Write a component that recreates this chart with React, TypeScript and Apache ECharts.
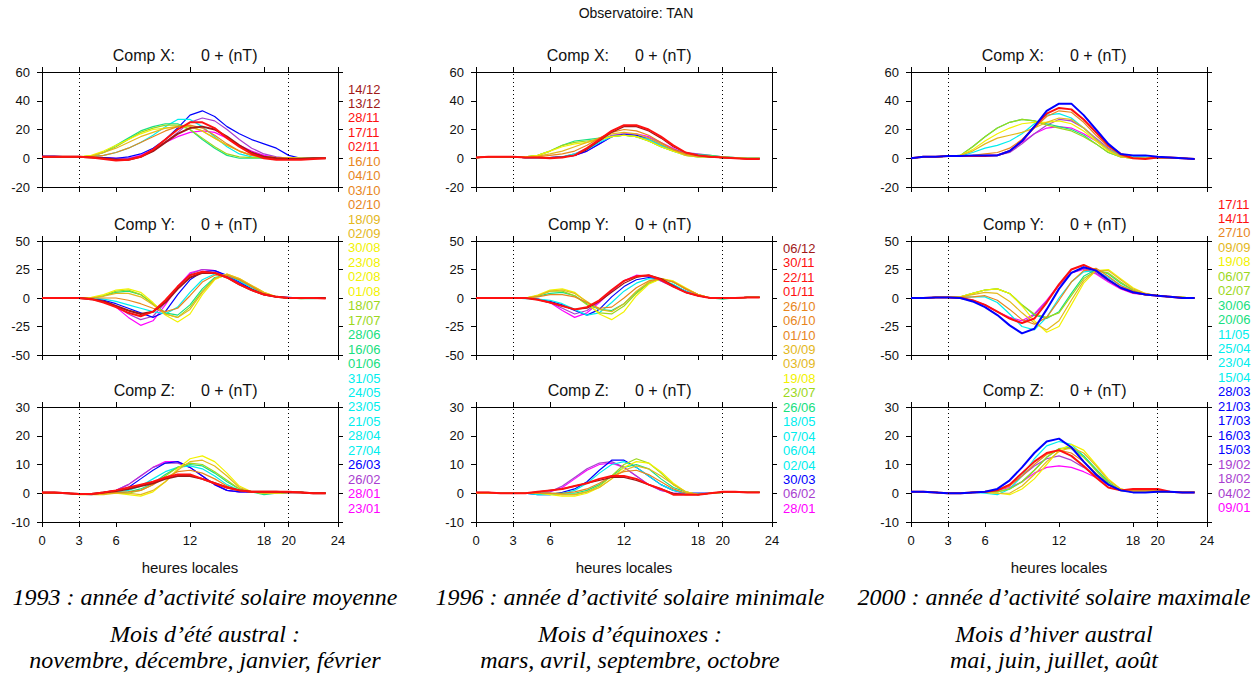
import React, { useEffect, useRef } from 'react';
import * as echarts from 'echarts';

// ---------- DATA ----------
const HOURS = [0, 1, 2, 3, 4, 5, 6, 7, 8, 9, 10, 11, 12, 13, 14, 15, 16, 17, 18, 19, 20, 21, 22, 23];
const X_TICKS = [0, 3, 6, 12, 18, 20, 24];
const NIGHT_LIMITS = [3, 20];
const COMPONENTS = ['X', 'Y', 'Z'];
const Y_MIN = [-20, -50, -10];
const Y_MAX = [60, 50, 30];
const Y_INTERVAL = [20, 25, 10];

// curve groups (by month colour), drawing order
const GROUPS_1993 = ['jan', 'feb', 'mar', 'cyan', 'jun', 'jul', 'aug', 'sep', 'oct', 'dec', 'nov'];
const GROUPS_1996 = ['jan', 'feb', 'mar', 'cyan', 'jun', 'jul', 'aug', 'sep', 'oct', 'dec', 'nov'];
const GROUPS_2000 = ['jan', 'feb', 'cyan', 'jun', 'jul', 'aug', 'sep', 'oct', 'nov', 'mar'];

const X_1993 = [
  [1, 1, 1, 1, 1, 0.5, 0, 0, 2, 6, 11, 15, 18, 19, 18, 14, 9, 5, 2, 0.5, 0, 0, 0.5, 0.5],
  [1, 1, 1, 1, 1, 0.5, 0, 0, 1, 5, 11, 18, 25, 28, 26, 20, 13, 7, 3, 1, 0, 0, 0.5, 0.5],
  [1.5, 1.5, 1, 1, 1, 0.5, 0, 1, 3, 7, 13, 21, 30, 33, 29, 22, 17, 13, 10, 7, 2, 0, 0.5, 0.5],
  [1, 1, 1, 1, 1.5, 2, 4, 7, 11, 16, 22, 27, 27, 22, 15, 8, 3, 1, 0.5, 0.5, 0.5, 0, 0, 0],
  [1, 1, 1, 1, 1.5, 4, 9, 14, 19, 22, 24, 24, 20, 13, 7, 2, 0, 0, 0, 0, 0, 0, 0, 0],
  [1, 1, 1, 1, 1.5, 4, 8, 13, 18, 21, 23, 23, 20, 14, 8, 3, 1, 0.5, 0.5, 0.5, 0, 0, 0, 0],
  [1, 1, 1, 1, 2, 5, 9, 13, 17, 20, 21, 22, 22, 19, 14, 9, 5, 2, 1, 0.5, 0.5, 0, 0, 0],
  [1, 1, 1, 1, 1.5, 4, 7, 11, 15, 18, 21, 22, 22, 19, 14, 9, 5, 2, 1, 0.5, 0.5, 0, 0, 0],
  [1, 1, 1, 1, 1, 2, 4, 7, 11, 15, 19, 22, 23, 21, 16, 10, 5, 2, 1, 0.5, 0, 0, 0, 0],
  [1, 1, 1, 1, 0.5, 0, -1, -1, 1, 5, 11, 17, 21, 22, 20, 15, 9, 4, 1, 0, -0.5, -0.5, 0, 0],
  [1, 1, 1, 1, 0.5, -0.5, -1.5, -1, 1, 6, 13, 20, 25, 25, 21, 14, 8, 3, 0, -1, -1, -1, -0.5, 0],
];
const Y_1993 = [
  [0, 0, 0, 0, 0, -2, -8, -17, -24, -20, -6, 10, 22, 25, 24, 19, 13, 7, 3, 1, 0, 0, 0, 0],
  [0, 0, 0, 0, 0, -2, -7, -14, -19, -16, -4, 10, 21, 25, 24, 19, 13, 7, 3, 1, 0, 0, 0, 0],
  [0, 0, 0, 0, 0, -2, -5, -9, -13, -17, -12, 3, 16, 23, 24, 20, 14, 8, 4, 1, 0.5, 0, 0, 0],
  [0, 0, 0, 0, 0, -1, -3, -6, -9, -12, -14, -8, 5, 16, 21, 20, 15, 9, 4, 1, 0, 0, 0, 0],
  [0, 0, 0, 0, 0, 2, 5, 6, 3, -5, -13, -15, -6, 8, 18, 20, 16, 10, 4, 1, 0, -0.5, -0.5, 0],
  [0, 0, 0, 0, 0, 2, 6, 7, 3, -5, -14, -17, -8, 6, 17, 20, 16, 10, 4, 1, 0, -0.5, 0, 0],
  [0, 0, 0, 0, 0.5, 3, 7, 8, 5, -4, -15, -21, -14, 3, 16, 21, 17, 11, 5, 1, 0, 0, 0, 0],
  [0, 0, 0, 0, 0, 1.5, 4, 4, 1, -6, -14, -17, -10, 5, 17, 21, 17, 11, 5, 1, 0, 0, 0, 0],
  [0, 0, 0, 0, 0, 0, 0, -2, -5, -9, -12, -9, 2, 14, 20, 20, 16, 10, 4, 1, 0, 0, 0, 0],
  [0, 0, 0, 0, -1, -3, -7, -11, -14, -12, -4, 8, 18, 22, 22, 18, 12, 7, 3, 1, 0, 0, 0, 0],
  [0, 0, 0, 0, -1, -4, -8, -13, -16, -12, -2, 10, 20, 23, 22, 18, 12, 7, 3, 1, 0, 0, 0, -0.5],
];
const Z_1993 = [
  [0, 0, 0, -0.3, -0.3, 0.3, 1, 3, 6, 9, 11, 11, 9, 6, 3, 1, 0.5, 0.5, 0.5, 0.5, 0.5, 0.3, 0, 0],
  [0, 0, 0, -0.3, -0.3, 0.3, 1, 3, 6, 9, 10.5, 10.5, 9, 6, 3, 1, 0.5, 0.5, 0.5, 0.5, 0.5, 0.3, 0, 0],
  [0, 0, 0, -0.3, -0.5, 0, 0.5, 2, 5, 8, 10.5, 11, 9, 6, 3, 1, 0.5, 0.5, 0.5, 0.5, 0.3, 0.3, 0, 0],
  [0, 0, 0, -0.3, -0.3, 0, 0.5, 1, 2.5, 5, 7.5, 9, 9.5, 8.5, 6, 3, 1, 0.5, 0, 0, 0.3, 0.3, 0, 0],
  [0, 0, 0, -0.3, -0.3, 0, 0, 0.5, 1.5, 3.5, 6.5, 9, 10, 9.5, 7, 4, 1.5, 0.5, -0.5, 0, 0.3, 0.3, 0, 0],
  [0, 0, 0, -0.3, -0.3, 0, 0, 0, 1, 3, 6, 9, 10.5, 10, 7.5, 4.5, 1.5, 0.5, 0, 0, 0.3, 0.3, 0, 0],
  [0, 0, 0, -0.3, -0.3, 0, 0, -0.5, -1, 0.5, 4, 8.5, 12, 13, 11, 7, 2.5, 0.5, 0, 0, 0.3, 0.3, 0, 0],
  [0, 0, 0, -0.5, -0.5, -0.5, 0, 0, -0.5, 1, 4, 8, 11, 11.5, 9.5, 6, 2, 0.5, 0, 0, 0.3, 0.3, 0, 0],
  [0, 0, 0, -0.3, -0.3, 0, 0.3, 0.5, 1, 3, 5.5, 7.5, 8, 7, 5, 2.5, 1, 0.5, 0.3, 0.3, 0.3, 0.3, 0, 0],
  [0.3, 0.3, 0, -0.3, -0.3, 0.3, 0.8, 1.5, 2.5, 3.5, 5, 6, 6, 5, 3.5, 2, 1, 0.5, 0.5, 0.5, 0.3, 0.3, 0, 0],
  [0.3, 0.3, 0, -0.3, -0.3, 0.3, 1, 2, 3, 4, 5.5, 6.5, 6.5, 5, 3.5, 2, 1, 0.5, 0.5, 0.5, 0.5, 0.3, 0, 0],
];

const X_1996 = [
  [0.5, 1, 1, 1, 0.5, 0.5, 0.5, 1, 2, 5, 10, 15, 17, 17, 15, 11, 7, 3, 1.5, 1, 0.5, 0, 0, 0],
  [0.5, 1, 1, 1, 0.5, 0.5, 0.5, 1, 3, 7, 12, 16, 17, 16, 13, 9, 6, 4, 3, 2, 1, 0.5, 0, 0],
  [0.5, 1, 1, 1, 0.5, 0.5, 0.5, 1, 2, 5, 10, 15, 16.5, 16, 14, 10, 6, 2.5, 1.5, 1, 0.5, 0, 0, 0],
  [0.5, 1, 1, 1, 0.5, 0.5, 0.5, 1, 3, 6, 11, 15, 16, 15, 13, 9, 5, 2, 1, 1, 0.5, 0, 0, 0],
  [0.5, 1, 1, 1, 1, 2, 5, 9, 12, 13, 14, 15, 16, 15, 12, 8, 5, 3, 2.5, 2, 1, 0.5, 0, 0],
  [0.5, 1, 1, 1, 1, 2, 5, 9, 11, 12, 13, 15, 16, 15, 12, 8, 5, 3, 2, 1.5, 1, 0.5, 0, 0],
  [0.5, 1, 1, 1, 1, 2, 5, 8, 10, 11, 13, 15, 16, 15, 12, 8, 5, 2, 1, 1, 0.5, 0, 0, 0],
  [0.5, 1, 1, 1, 1, 1.5, 3, 5, 8, 11, 14, 17, 18, 17, 14, 10, 6, 2, 1, 1, 0.5, 0, 0, 0],
  [0.5, 1, 1, 1, 0.5, 1, 2, 3, 5, 9, 14, 18, 20, 19, 16, 11, 6, 3, 1.5, 1, 0.5, 0, -0.5, -0.5],
  [0.5, 1, 1, 1, 0.5, 0.5, 0.5, 1, 2, 6, 12, 18, 22, 22, 19, 14, 8, 4, 2, 1, 0.5, 0, -0.5, -0.5],
  [0.5, 1, 1, 1, 0.5, 0.5, 0, 0.5, 2, 7, 13, 19, 23, 23, 20, 15, 9, 4, 2, 1, 0.5, 0, -0.5, -0.5],
];
const Y_1996 = [
  [0, 0, 0, 0, 0, -1, -4, -11, -17, -13, -4, 6, 15, 20, 19, 15, 10, 5, 2, 0, 0, 0, 0.5, 0.5],
  [0, 0, 0, 0, 0, -1, -4, -9, -14, -11, -3, 6, 15, 19, 19, 15, 10, 5, 2, 0, 0, 0, 0.5, 0.5],
  [0, 0, 0, 0, 0, -1, -3, -6, -11, -15, -10, 1, 10, 16, 18, 16, 11, 6, 2, 0, 0, 0, 0.5, 0.5],
  [0, 0, 0, 0, -0.5, -1, -2, -5, -10, -15, -13, -4, 6, 13, 17, 16, 12, 6, 2, 0, 0, 0, 0.5, 0.5],
  [0, 0, 0, 0, 0, 1.5, 4, 5, 2, -5, -10, -11, -5, 5, 13, 17, 14, 8, 3, 0, -1, 0, 0.5, 0.5],
  [0, 0, 0, 0, 0, 2, 6, 6, 2, -6, -13, -14, -7, 4, 13, 17, 14, 8, 3, 0, 0, 0, 0.5, 0.5],
  [0, 0, 0, 0, 0, 2.5, 7, 8, 5, -4, -14, -19, -12, 2, 12, 17, 15, 9, 3, 0, 0, 0, 0.5, 0.5],
  [0, 0, 0, 0, 0, 2, 6, 7, 4, -3, -10, -12, -5, 6, 14, 17, 14, 8, 3, 0, 0, 0, 0.5, 0.5],
  [0, 0, 0, 0, 0, 1, 3, 3, 1, -4, -9, -8, 0, 9, 15, 17, 14, 8, 3, 0, 0, 0, 0.5, 0.5],
  [0, 0, 0, 0, 0, -1.5, -4, -7, -10, -9, -3, 5, 13, 18, 20, 17, 11, 5, 2, 0, 0, 0, 0.5, 0.5],
  [0, 0, 0, 0, 0, -1.5, -4, -7, -10, -8, -2, 7, 15, 19, 20, 16, 10, 5, 2, 0, 0, 0, 0.5, 0.5],
];
const Z_1996 = [
  [0, 0, 0, 0, 0, 0, 0.5, 2, 5, 8, 10, 10.5, 9, 6, 3, 1, 0, 0, 0, 0, 0.3, 0.3, 0.3, 0.3],
  [0, 0, 0, 0, 0, 0, 0.5, 2.5, 5.5, 8.5, 10.5, 11, 9, 6, 3, 1, 0, 0, 0, 0, 0.3, 0.3, 0.3, 0.3],
  [0, 0, 0, 0, 0, -0.5, -0.5, 0.3, 1.5, 4, 8, 11.5, 11.5, 9, 6, 3, 1, 0, 0, 0, 0.3, 0.3, 0.3, 0.3],
  [0, 0, 0, 0, 0, -0.5, -0.5, 0, 1, 3.5, 7, 10, 11, 9, 6, 3, 1, 0, 0, 0, 0.3, 0.3, 0.3, 0.3],
  [0, 0, 0, 0, 0, 0, 0, 0, 0, 1, 3, 6, 9, 10, 8.5, 5, 2, 0.5, -0.5, 0, 0.3, 0.3, 0.3, 0.3],
  [0, 0, 0, 0, 0, 0, 0, -0.5, -0.5, 0.5, 2.5, 6, 10, 12, 10.5, 7, 3, 0.5, -0.5, 0, 0.3, 0.3, 0.3, 0.3],
  [0, 0, 0, 0, 0, 0, -0.5, -1, -1, 0, 2, 5, 9, 11, 10.5, 7.5, 3.5, 0.5, -0.5, 0, 0.3, 0.3, 0.3, 0.3],
  [0, 0, 0, 0, 0, 0, 0, -0.5, -0.5, 0.5, 2, 5, 8, 9.5, 8.5, 6, 3, 0.5, -0.5, 0, 0.3, 0.3, 0.3, 0.3],
  [0, 0, 0, 0, 0, 0, 0, 0, 0.5, 1.5, 3.5, 6, 7.5, 8, 6.5, 4, 1.5, 0, -0.5, 0, 0.3, 0.3, 0.3, 0.3],
  [0.3, 0.3, 0, 0, 0, 0.5, 1, 1.5, 2.5, 3.5, 4.5, 5.5, 5.5, 4.5, 3, 1.5, 0, -0.5, -0.5, 0, 0.5, 0.5, 0.3, 0.3],
  [0.3, 0.3, 0, 0, 0, 0.5, 1, 1.5, 2.5, 3.5, 5, 6, 6, 5, 3, 1.5, -0.5, -0.5, -0.5, 0, 0.5, 0.5, 0.3, 0.3],
];

const X_2000 = [
  [0, 1, 1, 1.5, 1.5, 1.5, 2, 2, 5, 11, 17, 21, 22, 21, 17, 12, 6, 2, 0, 0, 0.5, 0.5, 0, -0.5],
  [0, 1, 1, 1.5, 1.5, 1.5, 2, 2, 4, 10, 17, 23, 27, 26, 21, 14, 7, 2, 0, 0, 0.5, 0.5, 0, -0.5],
  [0, 1, 1, 1.5, 1.5, 4, 7, 9, 12, 17, 24, 30, 31, 28, 21, 13, 6, 2, 1, 1, 0.5, 0.5, 0, -0.5],
  [0, 1, 1, 1.5, 2, 8, 15, 21, 25, 27, 26, 24, 22, 20, 16, 10, 4, 1, 0, 0, 0.5, 0.5, 0, -0.5],
  [0, 1, 1, 1.5, 2, 8, 15, 21, 25, 27, 26, 23, 21, 19, 15, 10, 4, 1, 0, 0, 0.5, 0.5, 0, -0.5],
  [0, 1, 1, 1.5, 2, 6, 12, 17, 21, 24, 25, 25, 26, 24, 19, 12, 5, 1, 0, 0, 0.5, 0.5, 0, -0.5],
  [0, 1, 1, 1.5, 2, 5, 10, 14, 16, 18, 21, 25, 28, 27, 21, 13, 6, 1, 0, 0, 0.5, 0.5, 0, -0.5],
  [0, 1, 1, 1.5, 1.5, 2, 3, 4, 7, 13, 21, 29, 33, 32, 25, 16, 8, 2, 0, 0, 0.5, 0.5, 0, -0.5],
  [0, 1, 1, 1.5, 1.5, 1.5, 1.5, 2, 5, 12, 22, 31, 35, 34, 27, 18, 9, 3, 0, -0.5, 0.5, 0.5, 0, -0.5],
  [0, 1, 1, 1.5, 1.5, 2, 2, 2, 5, 12, 22, 33, 38, 38, 30, 20, 10, 3, 2, 2, 1, 0.5, 0, -0.5],
];
const Y_2000 = [
  [0, 0, 0.5, 0.5, 0, -2, -6, -12, -17, -20, -14, -2, 12, 22, 25, 21, 14, 8, 4, 3, 2, 1, 0, 0],
  [0, 0, 0.5, 0.5, 0, -2, -6, -12, -18, -22, -15, -3, 11, 22, 26, 22, 15, 9, 5, 3, 2, 1, 0, 0],
  [0, 0, 0.5, 0.5, 0.5, 1, 1, -4, -14, -25, -28, -17, 0, 14, 23, 24, 18, 11, 6, 3, 2, 1, 0.5, 0],
  [0, 0, 0.5, 0.5, 1, 4, 7, 8, 4, -6, -15, -18, -12, 4, 19, 25, 21, 13, 7, 3, 2, 1, 0.5, 0],
  [0, 0, 0.5, 0.5, 1, 4, 7, 8, 4, -6, -14, -17, -13, 2, 17, 24, 22, 14, 7, 3, 2, 1, 0.5, 0],
  [0, 0, 0.5, 0.5, 1, 4, 7, 8, 4, -7, -20, -30, -25, -6, 13, 24, 25, 17, 9, 4, 2, 1, 0.5, 0],
  [0, 0, 0.5, 0.5, 1, 3, 5, 4, -3, -13, -22, -28, -20, -2, 15, 24, 24, 16, 8, 4, 2, 1, 0.5, 0],
  [0, 0, 0.5, 0.5, 0.5, 1, 2, -2, -10, -19, -23, -17, -2, 14, 24, 26, 19, 11, 6, 3, 2, 1, 0.5, 0],
  [0, 0, 0.5, 0.5, 0, -2, -6, -12, -18, -22, -18, -4, 12, 25, 29, 24, 16, 9, 5, 3, 2, 1, 0, 0],
  [0, 0, 0.5, 0.5, 0, -3, -8, -15, -24, -31, -27, -10, 8, 22, 27, 24, 16, 9, 5, 3, 2, 1, 0, 0],
];
const Z_2000 = [
  [0.5, 0.5, 0.3, 0, 0, 0.3, 0.5, 1, 2, 4, 7, 9, 9.5, 9, 7.5, 5.5, 3, 1, 0.5, 0.5, 0.5, 0.5, 0.3, 0.3],
  [0.5, 0.5, 0.3, 0, 0, 0.3, 0.5, 1, 3, 6, 9.5, 12, 13, 11.5, 9, 6, 3, 1, 0.5, 0.5, 0.5, 0.5, 0.3, 0.3],
  [0.5, 0.5, 0.3, 0, 0, 0.3, 0, -0.5, 1.5, 6, 12, 16.5, 18, 17, 13, 8, 3.5, 1, 0.5, 0.5, 0.5, 0.5, 0.3, 0.3],
  [0.5, 0.5, 0.3, 0, 0, 0.3, 0.5, 0.5, 1.5, 4, 8, 12.5, 15.5, 16, 13, 8.5, 4, 1, 0.5, 0.5, 0.5, 0.5, 0.3, 0.3],
  [0.5, 0.5, 0.3, 0, 0, 0.3, 0.5, 0.5, 1.5, 4, 8, 12.5, 15.5, 15.5, 12.5, 8, 3.5, 1, 0.5, 0.5, 0.5, 0.5, 0.3, 0.3],
  [0.5, 0.5, 0.3, 0, 0, 0.3, 0.3, 0, -0.5, 1.5, 5, 10, 15, 17, 15, 10, 5, 1.5, 0.5, 0.5, 0.5, 0.5, 0.3, 0.3],
  [0.5, 0.5, 0.3, 0, 0, 0.3, 0.3, 0, 0, 2.5, 6.5, 11, 14.5, 16, 14, 9.5, 4.5, 1.5, 0.5, 0.5, 0.5, 0.5, 0.3, 0.3],
  [0.5, 0.5, 0.3, 0, 0, 0.3, 0.5, 1, 2.5, 6, 10, 13.5, 15, 14, 11, 7, 3, 1, 1, 1, 1, 0.5, 0.3, 0.3],
  [0.5, 0.5, 0.3, 0, 0, 0.3, 0.5, 1, 3, 7, 11, 14, 15, 13, 9.5, 5.5, 2, 1, 1.5, 1.5, 1.5, 0.5, 0.3, 0.3],
  [0.5, 0.5, 0.3, 0, 0, 0.3, 0.5, 1.5, 4.5, 9, 14, 18, 19, 16, 11, 6.5, 3, 1, 0.3, 0.3, 0.5, 0.5, 0.3, 0.3],
];

// legend dates (dd/mm), as listed beside each column
const DATES_1993 = ['14/12', '13/12', '28/11', '17/11', '02/11', '16/10', '04/10', '03/10', '02/10', '18/09', '02/09', '30/08', '23/08', '02/08', '01/08', '18/07', '17/07', '28/06', '16/06', '01/06', '31/05', '24/05', '23/05', '21/05', '28/04', '27/04', '26/03', '26/02', '28/01', '23/01'];
const DATES_1996 = ['06/12', '30/11', '22/11', '01/11', '26/10', '06/10', '01/10', '30/09', '03/09', '19/08', '23/07', '26/06', '18/05', '07/04', '06/04', '02/04', '30/03', '06/02', '28/01'];
const DATES_2000 = ['17/11', '14/11', '27/10', '09/09', '19/08', '06/07', '02/07', '30/06', '20/06', '11/05', '25/04', '23/04', '15/04', '28/03', '21/03', '17/03', '16/03', '15/03', '19/02', '18/02', '04/02', '09/01'];

const CAPTION_YEAR = ['1993 : année d’activité solaire moyenne', '1996 : année d’activité solaire minimale', '2000 : année d’activité solaire maximale'];
const CAPTION_SEASON = ['Mois d’été austral :', 'Mois d’équinoxes :', 'Mois d’hiver austral'];
const CAPTION_MONTHS = ['novembre, décembre, janvier, février', 'mars, avril, septembre, octobre', 'mai, juin, juillet, août'];

// ---------- STYLE ----------
const GROUP_COLOR: Record<string, string> = {
  jan: '#ff00ff', feb: '#a83ed0', mar: '#0000ff', cyan: '#00eeee', jun: '#18e080', jul: '#9cd81c',
  aug: '#f2f200', sep: '#e4b81c', oct: '#e8861c', nov: '#ff1010', dec: '#a01818',
};
const MONTH_GROUP = ['', 'jan', 'feb', 'mar', 'cyan', 'cyan', 'jun', 'jul', 'aug', 'sep', 'oct', 'nov', 'dec'];
const BOLD = [['nov', 'dec'], ['nov'], ['mar', 'nov']];

const COL_LEFT = [42, 476, 911];
const GRID_W = 296;
const ROW_TOP = [72, 241, 407];
const ROW_H = [115, 114, 115];
const LEGEND_X = [348, 783, 1218];
const LEGEND_TOP = [89, 248.3, 204];
const LEGEND_STEP = 14.45;
const CAPTION_X = [205, 630, 1054];

const SANS = '"Liberation Sans", Arial, Helvetica, sans-serif';
const SERIF = '"Liberation Serif", "Times New Roman", serif';

const PANELS = [
  { groups: GROUPS_1993, comps: [X_1993, Y_1993, Z_1993], dates: DATES_1993 },
  { groups: GROUPS_1996, comps: [X_1996, Y_1996, Z_1996], dates: DATES_1996 },
  { groups: GROUPS_2000, comps: [X_2000, Y_2000, Z_2000], dates: DATES_2000 },
];

function buildOption() {
  const grid: any[] = [];
  const xAxis: any[] = [];
  const yAxis: any[] = [];
  const series: any[] = [];
  const graphic: any[] = [];
  const axisLine = { show: true, onZero: false, lineStyle: { color: '#000', width: 1 } };

  PANELS.forEach((panel, p) => {
    COMPONENTS.forEach((comp, c) => {
      const gi = p * 3 + c;
      grid.push({ left: COL_LEFT[p], top: ROW_TOP[c], width: GRID_W, height: ROW_H[c] });
      const xBase = {
        type: 'value', gridIndex: gi, min: 0, max: 24, splitLine: { show: false }, axisLine,
        axisTick: { show: true, customValues: X_TICKS, length: 5, lineStyle: { color: '#000' } },
      };
      xAxis.push({
        ...xBase, position: 'bottom',
        axisLabel: { show: c === 2, customValues: X_TICKS, color: '#111', fontSize: 13, fontFamily: SANS, margin: 12 },
      });
      xAxis.push({ ...xBase, position: 'top', axisLabel: { show: false } });
      const yBase = {
        type: 'value', gridIndex: gi, min: Y_MIN[c], max: Y_MAX[c], interval: Y_INTERVAL[c],
        splitLine: { show: false }, axisLine,
        axisTick: { show: true, length: 5, lineStyle: { color: '#000' } },
      };
      yAxis.push({ ...yBase, position: 'left', axisLabel: { color: '#111', fontSize: 13, fontFamily: SANS, margin: 12 } });
      yAxis.push({ ...yBase, position: 'right', axisLabel: { show: false } });

      const curves = panel.comps[c];
      panel.groups.forEach((g, k) => {
        const s: any = {
          type: 'line', xAxisIndex: gi * 2, yAxisIndex: gi * 2,
          data: HOURS.map((h, i) => [h, curves[k][i]]),
          symbol: 'none', showSymbol: false, silent: true,
          lineStyle: { color: GROUP_COLOR[g], width: BOLD[p].includes(g) ? 2 : 1.2 },
        };
        if (k === 0) {
          s.markLine = {
            silent: true, symbol: ['none', 'none'], label: { show: false },
            lineStyle: { type: [1, 3], color: '#000', width: 1 },
            data: NIGHT_LIMITS.map((v) => ({ xAxis: v })),
          };
        }
        series.push(s);
      });

      const cx = COL_LEFT[p];
      const ty = ROW_TOP[c] - 17;
      graphic.push({ type: 'text', style: { text: `Comp ${comp}:`, x: cx + 133, y: ty, textAlign: 'right', textVerticalAlign: 'middle', align: 'right', verticalAlign: 'middle', fill: '#111', font: `16px ${SANS}` } });
      graphic.push({ type: 'text', style: { text: '0 + (nT)', x: cx + 159, y: ty, textAlign: 'left', textVerticalAlign: 'middle', align: 'left', verticalAlign: 'middle', fill: '#111', font: `16px ${SANS}` } });
    });

    // x-axis title
    graphic.push({ type: 'text', style: { text: 'heures locales', x: COL_LEFT[p] + GRID_W / 2, y: 567, textAlign: 'center', textVerticalAlign: 'middle', align: 'center', verticalAlign: 'middle', fill: '#111', font: `15px ${SANS}` } });

    // date legend
    panel.dates.forEach((d, i) => {
      const m = parseInt(d.slice(3), 10);
      graphic.push({ type: 'text', style: { text: d, x: LEGEND_X[p], y: LEGEND_TOP[p] + i * LEGEND_STEP, textAlign: 'left', textVerticalAlign: 'middle', align: 'left', verticalAlign: 'middle', fill: GROUP_COLOR[MONTH_GROUP[m]], font: `13px ${SANS}` } });
    });

    // captions
    const capLines = [[CAPTION_YEAR[p], 597], [CAPTION_SEASON[p], 634], [CAPTION_MONTHS[p], 660]];
    capLines.forEach(([t, y]) => {
      graphic.push({ type: 'text', style: { text: t, x: CAPTION_X[p], y, textAlign: 'center', textVerticalAlign: 'middle', align: 'center', verticalAlign: 'middle', fill: '#000', font: `italic 24px ${SERIF}` } });
    });
  });

  graphic.push({ type: 'text', style: { text: 'Observatoire: TAN', x: 636, y: 13, textAlign: 'center', textVerticalAlign: 'middle', align: 'center', verticalAlign: 'middle', fill: '#111', font: `14px ${SANS}` } });

  return { animation: false, backgroundColor: '#fff', grid, xAxis, yAxis, series, graphic };
}

export default function App() {
  const ref = useRef<HTMLDivElement>(null);
  useEffect(() => {
    if (!ref.current) return;
    const chart = echarts.init(ref.current, undefined, { renderer: 'svg' });
    chart.setOption(buildOption() as any);
    return () => chart.dispose();
  }, []);
  return <div ref={ref} style={{ position: 'absolute', left: 0, top: 0, width: 1257, height: 677, background: '#fff' }} />;
}
